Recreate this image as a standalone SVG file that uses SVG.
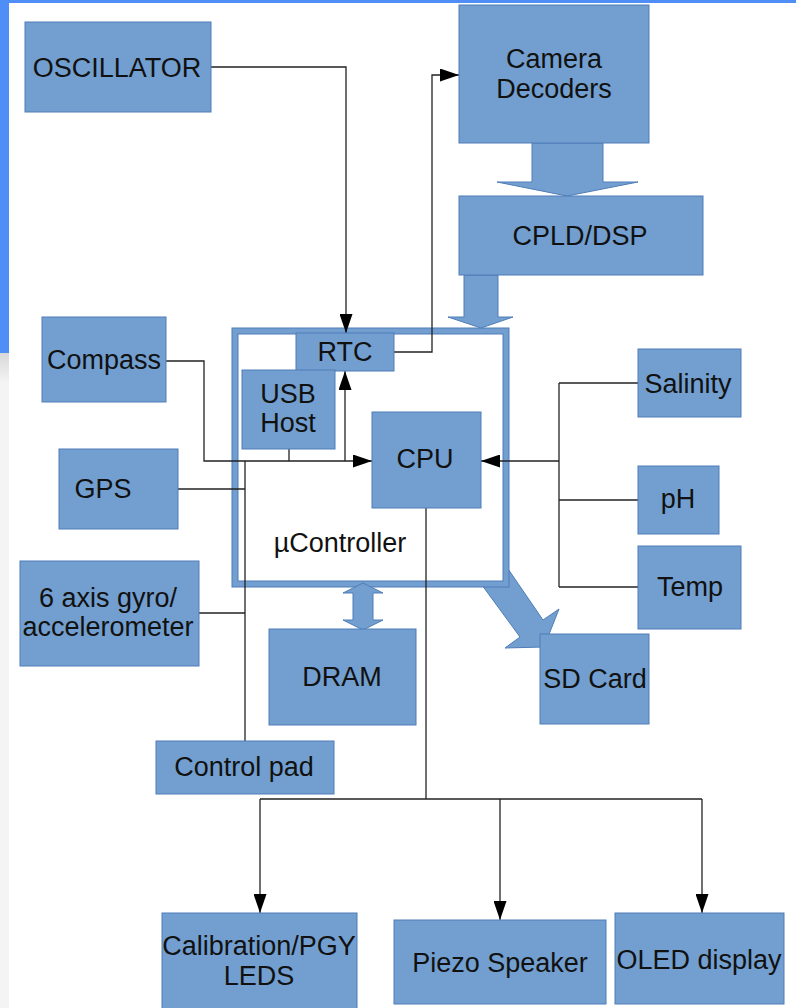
<svg xmlns="http://www.w3.org/2000/svg" width="796" height="1008" viewBox="0 0 796 1008">
<defs>
<style>
.node{fill:#729fcf;stroke:#4f7db8;stroke-width:1}
.lbl{font-family:"Liberation Sans",Arial,sans-serif;font-size:27px;fill:#111;text-anchor:middle}
.con{fill:none;stroke:#222;stroke-width:1.3}
.big{fill:#729fcf;stroke:#4f7db8;stroke-width:1}
</style>
<marker id="ah" markerUnits="userSpaceOnUse" markerWidth="19" markerHeight="13" refX="19" refY="6.5" orient="auto">
<path d="M0,0 L19,6.5 L0,13 z" fill="#000"/>
</marker>
<linearGradient id="sh" x1="0" y1="0" x2="0" y2="1">
<stop offset="0" stop-color="#d8d8d8"/>
<stop offset="1" stop-color="#f4f4f4"/>
</linearGradient>
</defs>
<rect x="0" y="0" width="796" height="1008" fill="#fff"/>
<rect x="0" y="0" width="796" height="3" fill="#4f8ef7"/>
<rect x="0" y="0" width="9" height="353" fill="#4f8ef7"/>
<rect x="0" y="353" width="9" height="30" fill="url(#sh)"/>
<rect x="0" y="383" width="9" height="625" fill="#f4f4f4"/>

<polygon id="sd-arrow" class="big" points="479,581 504,563 543,620 559,609 544,647 505,648 520,637"/>

<g id="ucontroller">
<rect x="235" y="331" width="271" height="253" fill="#fff" stroke="#729fcf" stroke-width="6"/>
<rect x="232" y="328" width="277" height="259" fill="none" stroke="#4f7db8" stroke-width="1"/>
<rect x="238" y="334" width="265" height="247" fill="none" stroke="#4f7db8" stroke-width="1"/>
<text class="lbl" x="340" y="552">µController</text>
</g>

<g id="connectors">
<path class="con" d="M211,67 H346 V333" marker-end="url(#ah)"/>
<path class="con" d="M394,352 H432 V75 H459" marker-end="url(#ah)"/>
<path class="con" d="M166,361 H204 V461 H372" marker-end="url(#ah)"/>
<path class="con" d="M289,449 V461"/>
<path class="con" d="M345,461 V371" marker-end="url(#ah)"/>
<path class="con" d="M178,489 H245"/>
<path class="con" d="M245,461 V741"/>
<path class="con" d="M199,613 H245"/>
<path class="con" d="M559,383 V587"/>
<path class="con" d="M638,383 H559"/>
<path class="con" d="M638,500 H559"/>
<path class="con" d="M638,587 H559"/>
<path class="con" d="M559,461 H481" marker-end="url(#ah)"/>
<path class="con" d="M426,508 V799"/>
<path class="con" d="M260,799 H702"/>
<path class="con" d="M260,799 V913" marker-end="url(#ah)"/>
<path class="con" d="M500,799 V920" marker-end="url(#ah)"/>
<path class="con" d="M702,799 V913" marker-end="url(#ah)"/>
<polygon class="big" points="532,143 603,143 603,182 638,182 567,196 497,182 532,182"/>
<polygon class="big" points="464,275 498,275 498,317 513,317 481,328 448,317 464,317"/>
<polygon class="big" points="363,583 383,593 373,593 373,620 383,620 363,630 343,620 353,620 353,593 343,593"/>
</g>

<g id="oscillator"><rect class="node" x="25" y="22" width="186" height="90"/><text class="lbl" x="117" y="77">OSCILLATOR</text></g>
<g id="camera"><rect class="node" x="459" y="5" width="190" height="138"/><text class="lbl" x="554" y="68">Camera</text><text class="lbl" x="554" y="98">Decoders</text></g>
<g id="cpld"><rect class="node" x="459" y="196" width="244" height="79"/><text class="lbl" x="580" y="245">CPLD/DSP</text></g>
<g id="rtc"><rect class="node" x="296" y="333" width="98" height="38"/><text class="lbl" x="345" y="361">RTC</text></g>
<g id="usb"><rect class="node" x="242" y="370" width="93" height="79"/><text class="lbl" x="288" y="403">USB</text><text class="lbl" x="288" y="432">Host</text></g>
<g id="cpu"><rect class="node" x="372" y="412" width="109" height="96"/><text class="lbl" x="425" y="468">CPU</text></g>
<g id="compass"><rect class="node" x="42" y="317" width="124" height="85"/><text class="lbl" x="104" y="369">Compass</text></g>
<g id="gps"><rect class="node" x="59" y="449" width="119" height="80"/><text class="lbl" x="103" y="498">GPS</text></g>
<g id="gyro"><rect class="node" x="20" y="561" width="179" height="105"/><text class="lbl" x="108" y="607">6 axis gyro/</text><text class="lbl" x="108" y="636">accelerometer</text></g>
<g id="controlpad"><rect class="node" x="156" y="741" width="178" height="53"/><text class="lbl" x="244" y="776">Control pad</text></g>
<g id="dram"><rect class="node" x="269" y="629" width="147" height="96"/><text class="lbl" x="342" y="686">DRAM</text></g>
<g id="sdcard"><rect class="node" x="540" y="634" width="109" height="90"/><text class="lbl" x="595" y="688">SD Card</text></g>
<g id="salinity"><rect class="node" x="638" y="349" width="103" height="68"/><text class="lbl" x="688" y="393">Salinity</text></g>
<g id="ph"><rect class="node" x="638" y="466" width="81" height="68"/><text class="lbl" x="678" y="508">pH</text></g>
<g id="temp"><rect class="node" x="638" y="546" width="103" height="83"/><text class="lbl" x="690" y="596">Temp</text></g>
<g id="calibration"><rect class="node" x="162" y="913" width="195" height="98"/><text class="lbl" x="259" y="955">Calibration/PGY</text><text class="lbl" x="259" y="985">LEDS</text></g>
<g id="piezo"><rect class="node" x="394" y="920" width="212" height="84"/><text class="lbl" x="500" y="972">Piezo Speaker</text></g>
<g id="oled"><rect class="node" x="615" y="913" width="169" height="91"/><text class="lbl" x="699" y="969">OLED display</text></g>
</svg>
